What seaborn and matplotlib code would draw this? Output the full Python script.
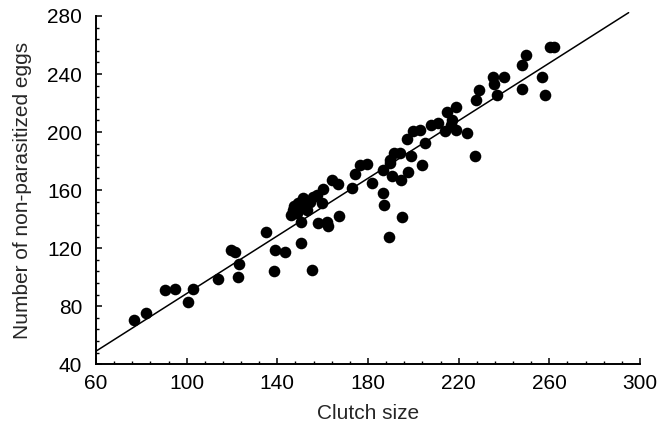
import numpy as np
import pandas as pd
import seaborn as sns
from matplotlib import pyplot as plt
from matplotlib.ticker import FixedLocator

# clutch size vs non-parasitized eggs
clutch_size = [
    76.8, 82.1, 90.5, 94.8, 100.7, 102.9, 114.0, 119.7, 121.2, 122.8,
    123.2, 135.2, 139.0, 143.3, 138.7, 150.3, 155.3, 145.8, 147.0, 148.5,
    149.3, 150.5, 151.5, 152.2, 154.4, 155.9, 157.3, 158.0, 160.0, 159.8,
    161.8, 162.5, 164.3, 166.9, 167.2, 172.8, 174.2, 176.4, 179.4, 181.6,
    186.7, 187.0, 189.2, 195.0, 186.7, 189.5, 191.5, 194.0, 190.8, 194.5,
    197.8, 199.0, 197.0, 199.7, 202.8, 205.1, 203.8, 207.8, 210.8, 213.8,
    216.4, 219.0, 223.5, 227.0, 214.7, 218.8, 227.6, 228.8, 236.8, 235.0,
    235.8, 240.2, 247.8, 247.8, 249.7, 256.6, 257.9, 260.2, 262.0, 217.0,
    189.8, 147.5, 153.0,
]
non_parasitized = [
    70.3, 75.0, 90.8, 91.6, 83.2, 91.8, 98.6, 119.0, 117.4, 99.8,
    109.2, 130.9, 118.4, 117.0, 104.2, 123.7, 104.6, 142.8, 146.0, 144.0,
    150.8, 138.2, 154.2, 148.5, 152.0, 155.5, 156.8, 137.0, 161.0, 151.2,
    138.0, 135.0, 167.0, 164.4, 141.8, 161.2, 171.4, 177.2, 178.0, 164.6,
    157.7, 149.7, 127.6, 141.6, 173.8, 178.4, 185.3, 185.3, 169.5, 166.9,
    172.8, 183.6, 195.0, 200.6, 201.4, 192.2, 177.6, 204.8, 206.0, 200.6,
    204.8, 201.6, 199.6, 183.6, 214.0, 217.4, 222.0, 228.8, 225.5, 237.6,
    233.4, 238.2, 229.4, 246.2, 253.1, 238.2, 225.5, 258.4, 258.4, 208.0,
    181.0, 149.0, 146.5,
]

# fitted line end points
line_x = [60, 295]
line_y = [49.0, 282.3]

x_major = [60, 100, 140, 180, 220, 260, 300]
y_major = [40, 80, 120, 160, 200, 240, 280]

df = pd.DataFrame({"clutch": clutch_size, "eggs": non_parasitized})

sns.set_style("ticks")
plt.rcParams["font.family"] = ["Liberation Sans", "DejaVu Sans"]

fig = plt.figure(figsize=(6.58, 4.32), dpi=100)
ax = fig.add_axes([0.146, 0.157, 0.8266, 0.806])

ax.plot(line_x, line_y, color="black", linewidth=1.1, clip_on=False, zorder=1)
sns.scatterplot(
    data=df,
    x="clutch",
    y="eggs",
    color="black",
    s=70,
    edgecolor="black",
    linewidth=0,
    ax=ax,
    zorder=2,
)

ax.set_xlim(60, 300)
ax.set_ylim(40, 280)
ax.xaxis.set_major_locator(FixedLocator(x_major))
ax.yaxis.set_major_locator(FixedLocator(y_major))
ax.xaxis.set_minor_locator(FixedLocator(np.arange(60, 301, 8)))
ax.yaxis.set_minor_locator(FixedLocator(np.arange(40, 281, 8)))
ax.tick_params(which="major", direction="in", length=4, width=1.1,
               labelsize=15, color="black", labelcolor="black")
ax.tick_params(which="minor", direction="in", length=2, width=1.0, color="black")
ax.tick_params(axis="x", which="major", pad=7)
ax.tick_params(axis="y", which="major", pad=10)

for side in ("top", "right"):
    ax.spines[side].set_visible(False)
for side in ("left", "bottom"):
    ax.spines[side].set_linewidth(1.4)
    ax.spines[side].set_color("black")

ax.set_xlabel("Clutch size", fontsize=15, labelpad=8)
ax.set_ylabel("Number of non-parasitized eggs", fontsize=15, labelpad=11)

fig.savefig("out.png", dpi=100)
plt.close(fig)
